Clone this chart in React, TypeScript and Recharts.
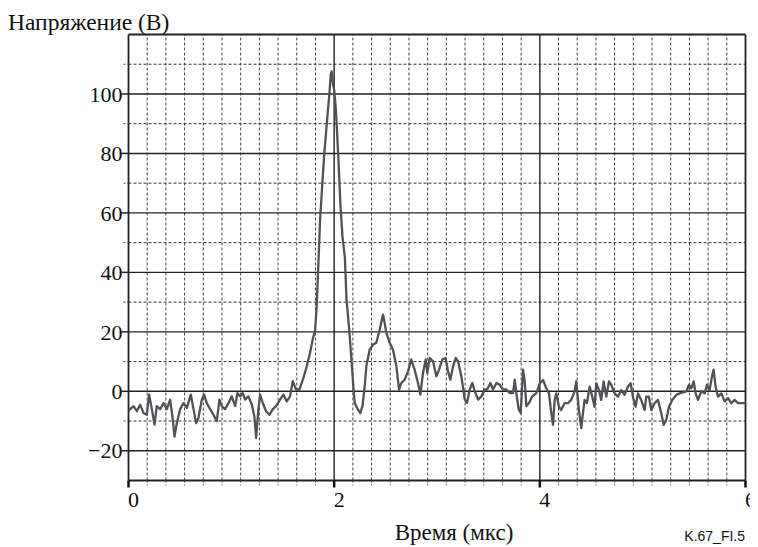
import React from "react";
import { LineChart, Line, XAxis, YAxis, ReferenceLine } from "recharts";

const timeUs = [
  0.0, 0.049, 0.081, 0.113, 0.146, 0.178, 0.2, 0.227, 0.253, 0.275, 0.308, 0.34, 0.373, 0.405, 0.431, 0.447,
  0.47, 0.502, 0.535, 0.567, 0.606, 0.632, 0.658, 0.68, 0.713, 0.735, 0.761, 0.794, 0.826, 0.858, 0.884, 0.907,
  0.939, 0.972, 1.004, 1.037, 1.059, 1.085, 1.111, 1.134, 1.166, 1.199, 1.224, 1.241, 1.263, 1.28, 1.306, 1.338,
  1.37, 1.403, 1.435, 1.474, 1.506, 1.539, 1.571, 1.597, 1.629, 1.662, 1.701, 1.733, 1.765, 1.798, 1.814, 1.83,
  1.853, 1.863, 1.879, 1.902, 1.921, 1.944, 1.954, 1.967, 1.975, 1.99, 2.0, 2.017, 2.04, 2.062, 2.081, 2.104,
  2.12, 2.146, 2.168, 2.184, 2.2, 2.232, 2.255, 2.275, 2.297, 2.313, 2.345, 2.378, 2.41, 2.443, 2.475, 2.491,
  2.507, 2.54, 2.572, 2.605, 2.631, 2.653, 2.685, 2.718, 2.75, 2.782, 2.815, 2.838, 2.864, 2.89, 2.906, 2.929,
  2.961, 2.994, 3.02, 3.052, 3.084, 3.107, 3.13, 3.156, 3.182, 3.205, 3.237, 3.27, 3.292, 3.318, 3.344, 3.367,
  3.4, 3.432, 3.464, 3.487, 3.519, 3.545, 3.578, 3.61, 3.642, 3.675, 3.707, 3.739, 3.756, 3.772, 3.795, 3.814,
  3.837, 3.853, 3.869, 3.895, 3.927, 3.966, 4.0, 4.031, 4.063, 4.089, 4.112, 4.128, 4.144, 4.16, 4.186, 4.208,
  4.24, 4.273, 4.305, 4.338, 4.354, 4.38, 4.403, 4.419, 4.435, 4.458, 4.484, 4.51, 4.532, 4.549, 4.575, 4.597,
  4.62, 4.646, 4.672, 4.694, 4.727, 4.759, 4.792, 4.824, 4.857, 4.883, 4.905, 4.931, 4.954, 4.986, 5.019, 5.035,
  5.06, 5.084, 5.116, 5.149, 5.181, 5.204, 5.23, 5.256, 5.288, 5.327, 5.36, 5.392, 5.425, 5.451, 5.473, 5.496,
  5.515, 5.538, 5.57, 5.603, 5.625, 5.651, 5.674, 5.69, 5.709, 5.732, 5.765, 5.797, 5.83, 5.862, 5.894, 5.927,
  5.975, 6.0,
];

const voltageV = [
  -6.5, -5, -6.7, -4.5, -7.3, -7.9, -1.1, -6, -11.2, -5, -6, -4, -6, -2.8, -9.5, -15.2,
  -10.7, -6, -4, -5.6, -1.1, -6, -10.7, -9, -2.8, -1.1, -4, -6, -7.9, -10, -2.8, -5,
  -6, -4, -1.7, -5, -0.6, -1.7, -0.6, -2.8, -1.7, -4.5, -8.4, -15.7, -6, -1.1, -4, -6.7,
  -7.9, -6, -5, -2.8, -1.1, -3.4, -1.7, 3.4, 0.6, 0.6, 4.5, 8.4, 12.9, 18.5, 20.2, 28.6,
  48.6, 57.6, 66.6, 79, 86.9, 96.4, 100.3, 106.5, 107.6, 103, 101.5, 94.7, 79, 62, 52, 45,
  30.9, 20.8, 10.7, 2.8, -3.9, -6.2, -7.3, -5, 1.7, 8.4, 14, 15.7, 16.3, 20.8, 25.8, 23,
  19.7, 16.3, 14, 8.4, 0.6, 2.8, 3.9, 6.7, 10.7, 7.3, 2.8, -1.1, 6.2, 10.7, 6.2, 11.2,
  10.1, 5, 7.3, 10.7, 11.2, 6.7, 3.9, 8.4, 11.2, 10.1, 5, -2.8, -3.9, 0.6, 2.8, 0,
  -2.8, -1.7, 0.6, 0.6, 2.8, 0.6, 2.8, 2.2, 0.6, 0.6, -0.6, -0.6, 3.9, -0.6, -6.2, -7.3,
  7.3, 3.4, -5, -3.9, -1.7, -0.6, 2.7, 3.8, 1, -0.7, -7.4, -11.3, -2.9, -0.7, -5.2, -6.3,
  -4, -4, -2.9, 0, 3.3, -6.3, -12.4, -7.4, -2.9, -4, 1.6, -1.8, -5.2, 2.7, 0.4, -2.9,
  3.3, -1.8, 3.3, 2.2, -0.7, -1.8, 0.4, -1.2, 1.6, 2.7, -1.8, -5.2, -0.7, -2.9, -6.3, -1.8,
  -1.8, -6.3, -4, -2.9, -7.4, -11.3, -9.6, -5.2, -2.9, -1.2, -0.7, -0.4, 0, 2.2, 1, 3.3,
  -0.7, -2.9, 0, -0.7, 2.2, 0.4, 5, 7.3, 1.6, -1.8, -0.7, -3.4, -2.3, -4, -2.9, -4,
  -4, -4,
];

// Axis / grid definitions
const xDomain = [0, 6];
const yDomain = [-30, 120];
const xLabelTicks = [0, 2, 4, 6];
const xDivisionsPerLabel = 11;
const xGridTicks = Array.from({ length: 3 * xDivisionsPerLabel + 1 }, (_, k) => (k * 2) / xDivisionsPerLabel);
const yGridTicks = [-30, -20, -10, 0, 10, 20, 30, 40, 50, 60, 70, 80, 90, 100, 110, 120];
const yLabelTicks = [-20, 0, 20, 40, 60, 80, 100];
const ySolidLines = [-30, -20, 0, 20, 40, 60, 80, 100, 120];

const data = timeUs.map((t, i) => ({ t, v: voltageV[i] }));

const isMajorX = (v: number) => xLabelTicks.some((m) => Math.abs(m - v) < 1e-6);

const SERIF = "'Liberation Serif', 'Times New Roman', serif";

const XTick = (props: any) => {
  const { x, y, payload } = props;
  const v = payload.value as number;
  const major = isMajorX(v);
  return (
    <g>
      <line
        x1={x}
        x2={x}
        y1={y}
        y2={y + (major ? 7 : 5)}
        stroke={major ? "#111" : "#444"}
        strokeWidth={major ? 2.5 : 1}
        strokeDasharray={major ? undefined : "2 2"}
      />
      {major && (
        <text x={x + 5} y={y + 26} textAnchor="middle" fontFamily={SERIF} fontSize={22} fill="#111">
          {Math.round(v)}
        </text>
      )}
    </g>
  );
};

const YTick = (props: any) => {
  const { x, y, payload } = props;
  const v = payload.value as number;
  const labeled = yLabelTicks.includes(v);
  if (v === 120 || v === -30) return <g />;
  return (
    <g>
      <line
        x1={x - (labeled ? 7 : 5)}
        x2={x}
        y1={y}
        y2={y}
        stroke={labeled ? "#222" : "#444"}
        strokeWidth={labeled ? 1.5 : 1}
        strokeDasharray={labeled ? undefined : "2 2"}
      />
      {labeled && (
        <text x={x - 6} y={y} dy="0.35em" textAnchor="end" fontFamily={SERIF} fontSize={22} fill="#111">
          {v < 0 ? "\u2212" + Math.abs(v) : v}
        </text>
      )}
    </g>
  );
};

export default function App() {
  return (
    <div style={{ position: "relative", width: 750, height: 539, background: "#fff" }}>
      <LineChart
        width={750}
        height={539}
        data={data}
        margin={{ top: 26.5, right: 12.5, left: 0.5, bottom: 36.5 }}
      >
        {yGridTicks
          .filter((v) => !ySolidLines.includes(v))
          .map((v) => (
            <ReferenceLine key={"yd" + v} y={v} stroke="#333" strokeWidth={1} strokeDasharray="3 2" />
          ))}
        {xGridTicks
          .filter((v) => !isMajorX(v))
          .map((v, i) => (
            <ReferenceLine key={"xd" + i} x={v} stroke="#444" strokeWidth={1} strokeDasharray="3 2" />
          ))}
        {ySolidLines.map((v) => (
          <ReferenceLine key={"ys" + v} y={v} stroke="#222" strokeWidth={v === -30 || v === 120 ? 1.8 : 1.4} />
        ))}
        {xLabelTicks.map((v) => (
          <ReferenceLine key={"xs" + v} x={v} stroke="#222" strokeWidth={v === 0 || v === 6 ? 1.8 : 1.4} />
        ))}
        <XAxis
          dataKey="t"
          type="number"
          domain={xDomain}
          ticks={xGridTicks}
          interval={0}
          tickSize={0}
          tickMargin={0}
          axisLine={false}
          tickLine={false}
          tick={<XTick />}
          height={30}
          allowDataOverflow
        />
        <YAxis
          type="number"
          domain={yDomain}
          ticks={yGridTicks}
          interval={0}
          tickSize={0}
          tickMargin={0}
          axisLine={false}
          tickLine={false}
          tick={<YTick />}
          width={120}
          allowDataOverflow
        />
        <Line
          type="linear"
          dataKey="v"
          stroke="#505256"
          strokeWidth={2.3}
          dot={false}
          isAnimationActive={false}
          strokeLinejoin="round"
        />
      </LineChart>
      <svg
        width={750}
        height={539}
        style={{ position: "absolute", left: 0, top: 0, pointerEvents: "none" }}
      >
        <text x={0} y={22} fontFamily={SERIF} fontSize={23.5} fill="#111">
          Напряжение (В)
        </text>
        <text x={446} y={532} textAnchor="middle" fontFamily={SERIF} fontSize={23} fill="#111">
          Время (мкс)
        </text>
        <text x={737} y={533} textAnchor="end" fontFamily="'Liberation Sans', Arial, sans-serif" fontSize={14} fill="#111">
          K.67_FI.5
        </text>
      </svg>
    </div>
  );
}
